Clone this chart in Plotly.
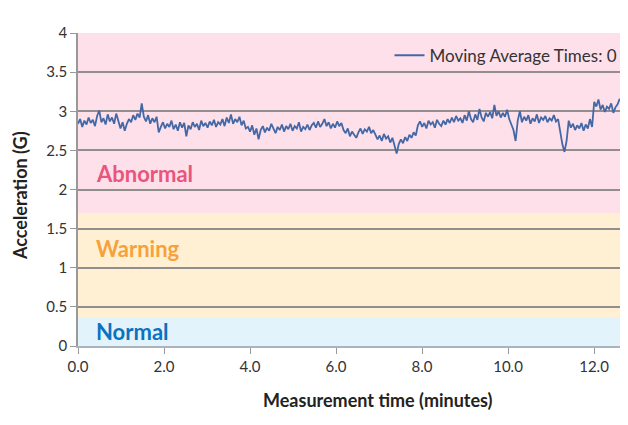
import plotly.graph_objects as go

# acceleration samples (G) at a fixed sampling step
sample_interval = 0.0494  # minutes
accel = [
    2.84, 2.90, 2.80, 2.88, 2.83, 2.92, 2.85, 2.89, 2.81, 2.94, 3.01, 2.86, 2.91, 2.83, 2.96, 2.87, 2.92, 2.84, 2.97, 2.88,
    2.78, 2.86, 2.75, 2.84, 2.90, 2.86, 2.95, 2.89, 2.97, 2.92, 3.10, 2.93, 2.87, 2.95, 2.84, 2.91, 2.86, 2.93, 2.73, 2.80,
    2.86, 2.78, 2.84, 2.80, 2.88, 2.77, 2.83, 2.75, 2.86, 2.79, 2.85, 2.68, 2.82, 2.77, 2.86, 2.80, 2.84, 2.76, 2.88, 2.81,
    2.85, 2.79, 2.87, 2.82, 2.89, 2.80, 2.86, 2.83, 2.90, 2.81, 2.92, 2.85, 2.96, 2.84, 2.90, 2.86, 2.93, 2.82, 2.88, 2.78,
    2.80, 2.74, 2.82, 2.70, 2.78, 2.64, 2.76, 2.81, 2.73, 2.79, 2.75, 2.84, 2.77, 2.72, 2.80, 2.76, 2.83, 2.74, 2.81, 2.77,
    2.84, 2.75, 2.81, 2.78, 2.86, 2.74, 2.80, 2.77, 2.83, 2.76, 2.82, 2.85, 2.79, 2.87, 2.80, 2.84, 2.90, 2.81, 2.86, 2.78,
    2.84, 2.79, 2.87, 2.81, 2.85, 2.76, 2.72, 2.78, 2.68, 2.74, 2.70, 2.66, 2.73, 2.78, 2.71, 2.77, 2.74, 2.80, 2.72, 2.76,
    2.70, 2.64, 2.69, 2.62, 2.71, 2.65, 2.68, 2.60, 2.66, 2.55, 2.46, 2.58, 2.64, 2.59, 2.67, 2.62, 2.70, 2.66, 2.73, 2.69,
    2.82, 2.87, 2.80, 2.85, 2.78, 2.88, 2.83, 2.86, 2.79, 2.89, 2.84, 2.81, 2.88, 2.83, 2.90, 2.85, 2.92, 2.86, 2.94, 2.88,
    2.91, 2.85, 2.95, 2.88, 3.00, 2.90, 2.86, 2.96, 2.89, 3.03, 2.92, 2.87, 2.98, 2.93, 2.99, 2.91, 3.08, 2.94, 3.00, 2.92,
    2.98, 2.93, 3.02, 2.90, 2.84, 2.76, 2.62, 2.88, 3.00, 2.86, 2.93, 2.88, 2.95, 2.84, 2.91, 2.87, 2.96, 2.85, 2.92, 2.89,
    2.94, 2.86, 2.91, 2.88, 2.95, 2.87, 2.90, 2.72, 2.58, 2.48, 2.62, 2.88, 2.79, 2.84, 2.76, 2.82, 2.78, 2.85, 2.75, 2.83,
    2.78, 2.90, 2.80, 3.12, 3.06, 3.15, 3.02, 3.08, 2.99, 3.06, 3.03, 3.10, 2.98, 3.05, 3.09, 3.16,
]
times = [i * sample_interval for i in range(len(accel))]

# zone limits (G)
normal_max = 0.37
warning_max = 1.7
y_max = 4
x_max = 12.79
zone_names = ["Normal", "Warning", "Abnormal"]
zone_bottoms = [0, normal_max, warning_max]
zone_tops = [normal_max, warning_max, y_max]
zone_label_y = [0.18, 1.24, 2.2]
zone_fill = ["#e3f3fc", "#fff0d4", "#fde0ea"]
zone_text = ["#0a72c0", "#f7a13a", "#e9557c"]

font = "Lato"
# page body adds an 8px offset, so the figure is drawn 8px smaller
W, H = 620, 417
ml, mr, mt, mb = 70, 0, 25, 79
pw, ph = W - ml - mr, H - mt - mb

fig = go.Figure()
fig.add_trace(go.Scatter(
    x=times, y=accel, mode="lines",
    name="Moving Average Times: 0",
    line=dict(color="#4468a6", width=1.8),
))

shapes = []
for b, t, c in zip(zone_bottoms, zone_tops, zone_fill):
    shapes.append(dict(type="rect", xref="paper", yref="y", layer="below",
                       x0=0, x1=1, y0=b, y1=t, fillcolor=c, line=dict(width=0)))

annotations = []
for name, y, c in zip(zone_names, zone_label_y, zone_text):
    annotations.append(dict(x=0.38, y=y, xref="x", yref="y", text="<b>" + name + "</b>",
                            xanchor="left", yanchor="middle", showarrow=False,
                            font=dict(family=font, size=22, color=c)))
annotations.append(dict(x=(370 - ml) / pw, y=-(392 - (H - mb)) / ph, xref="paper", yref="paper",
                        text="<b>Measurement time (minutes)</b>", showarrow=False,
                        xanchor="center", yanchor="middle",
                        font=dict(family=font, size=18, color="#222")))
annotations.append(dict(x=-(ml - 12) / pw, y=(H - mb - 188) / ph, xref="paper", yref="paper",
                        text="<b>Acceleration (G)</b>", showarrow=False, textangle=-90,
                        xanchor="center", yanchor="middle",
                        font=dict(family=font, size=18, color="#222")))

fig.update_layout(
    width=W, height=H,
    margin=dict(l=ml, r=mr, t=mt, b=mb),
    paper_bgcolor="white",
    plot_bgcolor="rgba(0,0,0,0)",
    font=dict(family=font, size=15, color="#333"),
    shapes=shapes,
    annotations=annotations,
    showlegend=True,
    legend=dict(x=0.99, xanchor="right", y=0.985, yanchor="top",
                bgcolor="rgba(0,0,0,0)", font=dict(family=font, size=17, color="#333")),
    xaxis=dict(range=[0, x_max], dtick=2, tickformat=".1f", showgrid=False, zeroline=False,
               showline=True, linecolor="#aab4bf", linewidth=2,
               ticks="outside", ticklen=6, tickcolor="#999"),
    yaxis=dict(range=[0, y_max], dtick=0.5, showgrid=True, gridcolor="#928e8e", gridwidth=1.5,
               zeroline=False, showline=True, linecolor="#999", linewidth=1.5,
               ticks="outside", ticklen=6, tickcolor="#999"),
)

fig.write_html("out.html")
